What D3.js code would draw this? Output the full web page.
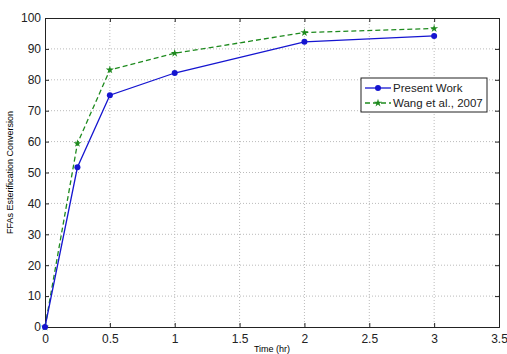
<!DOCTYPE html>
<html lang="en">
<head>
  <meta charset="UTF-8">
  <title>FFAs Esterification Conversion</title>
  <style>
    body { margin: 0; background: #fff; }
    svg { font-family: "Liberation Sans", Arial, sans-serif; }
    .grid line { stroke: #bbb; stroke-dasharray: 1,2; }
    .axis path, .axis line { stroke: #222; }
    .axis text { font-size: 12px; fill: #222; }
  </style>
</head>
<body>
  <svg id="chart" width="507" height="354"></svg>
  <script src="https://d3js.org/d3.v7.min.js"></script>
  <script>
    // data
    const times = [0, 0.25, 0.5, 1, 2, 3];
    const presentWork = [0, 51.7, 75, 82.2, 92.3, 94.2];
    const wang2007 = [0, 59.4, 83.2, 88.6, 95.3, 96.6];
    const xTicks = [0, 0.5, 1, 1.5, 2, 2.5, 3, 3.5];
    const yTicks = [0, 10, 20, 30, 40, 50, 60, 70, 80, 90, 100];
    const seriesNames = ['Present Work', 'Wang et al., 2007'];

    const margin = { top: 18, right: 8, bottom: 27, left: 45 };
    const width = 507 - margin.left - margin.right;
    const height = 354 - margin.top - margin.bottom;

    const svg = d3.select('#chart')
      .append('g')
      .attr('transform', `translate(${margin.left},${margin.top})`);

    const x = d3.scaleLinear().domain([0, 3.5]).range([0, width]);
    const y = d3.scaleLinear().domain([0, 100]).range([height, 0]);

    // dotted grid
    svg.append('g').attr('class', 'grid')
      .selectAll('line').data(xTicks.slice(1, -1)).enter().append('line')
      .attr('x1', d => x(d)).attr('x2', d => x(d))
      .attr('y1', 0).attr('y2', height);
    svg.append('g').attr('class', 'grid')
      .selectAll('line').data(yTicks.slice(1, -1)).enter().append('line')
      .attr('y1', d => y(d)).attr('y2', d => y(d))
      .attr('x1', 0).attr('x2', width);

    // axes, ticks pointing inward like matlab
    svg.append('g').attr('class', 'axis')
      .attr('transform', `translate(0,${height})`)
      .call(d3.axisBottom(x).tickValues(xTicks).tickSize(-4).tickPadding(7).tickFormat(d3.format('')));
    svg.append('g').attr('class', 'axis')
      .call(d3.axisLeft(y).tickValues(yTicks).tickSize(-4).tickPadding(4));
    svg.append('g').attr('class', 'axis')
      .call(d3.axisTop(x).tickValues(xTicks).tickSize(-4).tickFormat(''));
    svg.append('g').attr('class', 'axis')
      .attr('transform', `translate(${width},0)`)
      .call(d3.axisRight(y).tickValues(yTicks).tickSize(-4).tickFormat(''));
    svg.selectAll('.axis .domain').attr('stroke-width', 1);

    // axis titles
    svg.append('text')
      .attr('x', x(1.75)).attr('y', height + 25)
      .attr('text-anchor', 'middle')
      .attr('font-size', 9)
      .text('Time (hr)');
    svg.append('text')
      .attr('transform', `translate(${-32},${y(50)}) rotate(-90)`)
      .attr('text-anchor', 'middle')
      .attr('font-size', 9)
      .text('FFAs Esterification Conversion');

    const line = d3.line().x((d, i) => x(times[i])).y(d => y(d));

    // green dashed series with star markers
    svg.append('path').datum(wang2007)
      .attr('fill', 'none').attr('stroke', '#1e8a1e').attr('stroke-width', 1.3)
      .attr('stroke-dasharray', '5,3')
      .attr('d', line);
    const star = d3.symbol().type(d3.symbolStar).size(20);
    svg.selectAll('.wang').data(wang2007).enter().append('path')
      .attr('class', 'wang')
      .attr('transform', (d, i) => `translate(${x(times[i])},${y(d)})`)
      .attr('d', star)
      .attr('fill', '#1e8a1e');

    // blue solid series with dots
    svg.append('path').datum(presentWork)
      .attr('fill', 'none').attr('stroke', '#1515d0').attr('stroke-width', 1.3)
      .attr('d', line);
    svg.selectAll('.pw').data(presentWork).enter().append('circle')
      .attr('class', 'pw')
      .attr('cx', (d, i) => x(times[i])).attr('cy', d => y(d))
      .attr('r', 3)
      .attr('fill', '#1515d0');

    // legend
    const lg = svg.append('g').attr('transform', `translate(${361 - margin.left},${78 - margin.top})`);
    lg.append('rect').attr('width', 126).attr('height', 34)
      .attr('fill', '#fff').attr('stroke', '#222');
    const colors = ['#1515d0', '#1e8a1e'];
    seriesNames.forEach((name, i) => {
      const yy = 10 + i * 15;
      lg.append('line').attr('x1', 4).attr('x2', 30).attr('y1', yy).attr('y2', yy)
        .attr('stroke', colors[i]).attr('stroke-width', 1.3)
        .attr('stroke-dasharray', i === 1 ? '5,3' : null);
      if (i === 0) {
        lg.append('circle').attr('cx', 17).attr('cy', yy).attr('r', 3).attr('fill', colors[i]);
      } else {
        lg.append('path').attr('transform', `translate(17,${yy})`).attr('d', star).attr('fill', colors[i]);
      }
      lg.append('text').attr('x', 32).attr('y', yy + 4)
        .attr('font-size', 11.5).attr('fill', '#222').text(name);
    });
  </script>
</body>
</html>
